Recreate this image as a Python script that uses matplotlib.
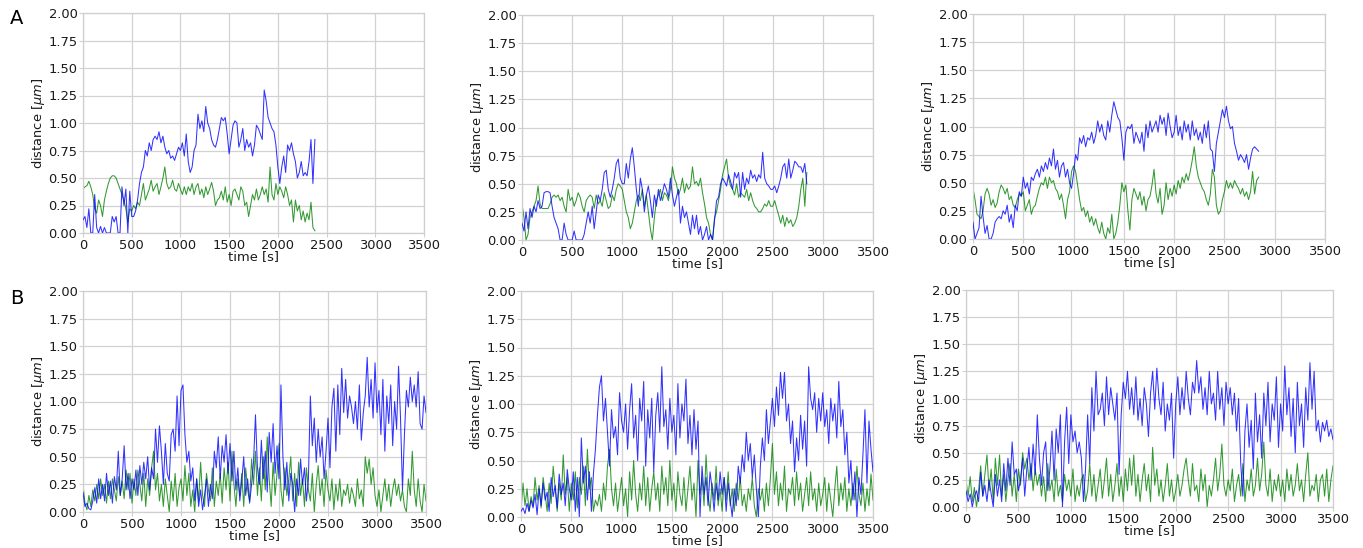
import numpy as np
import matplotlib
matplotlib.use("Agg")
import matplotlib.pyplot as plt

# ---------------- data ----------------
step = 20  # sampling interval [s]

a1_blue = [0.12, 0.15, 0.05, 0.22, 0.00, 0.00, 0.35, 0.05, 0.00, 0.06,
           0.00, 0.05, 0.00, 0.00, 0.00, 0.15, 0.10, 0.15, 0.00, 0.00,
           0.42, 0.25, 0.40, 0.00, 0.38, 0.15, 0.15, 0.20, 0.30, 0.45,
           0.55, 0.60, 0.75, 0.70, 0.82, 0.75, 0.85, 0.88, 0.85, 0.92,
           0.82, 0.88, 0.78, 0.72, 0.75, 0.68, 0.70, 0.66, 0.72, 0.78,
           0.75, 0.82, 0.70, 0.90, 0.65, 0.55, 0.60, 0.75, 0.80, 1.08,
           0.95, 1.02, 0.92, 1.15, 1.00, 0.95, 0.85, 0.80, 0.78, 0.85,
           0.95, 1.05, 1.02, 1.05, 0.90, 0.72, 0.85, 0.98, 1.02, 1.00,
           0.78, 0.85, 0.95, 0.75, 0.85, 0.78, 0.82, 0.70, 0.80, 0.98,
           0.95, 0.90, 0.85, 1.30, 1.20, 1.05, 1.00, 0.95, 0.92, 0.80,
           0.60, 0.45, 0.60, 0.70, 0.55, 0.80, 0.75, 0.82, 0.72, 0.65,
           0.50, 0.55, 0.65, 0.52, 0.55, 0.52, 0.65, 0.85, 0.45, 0.85]
a1_green = [0.40, 0.42, 0.43, 0.47, 0.42, 0.35, 0.22, 0.18, 0.30, 0.25,
            0.15, 0.30, 0.38, 0.45, 0.50, 0.52, 0.52, 0.50, 0.45, 0.40,
            0.35, 0.30, 0.22, 0.10, 0.22, 0.20, 0.25, 0.22, 0.28, 0.25,
            0.35, 0.45, 0.30, 0.35, 0.40, 0.48, 0.38, 0.42, 0.45, 0.35,
            0.42, 0.50, 0.60, 0.45, 0.40, 0.42, 0.48, 0.40, 0.38, 0.45,
            0.40, 0.35, 0.42, 0.35, 0.42, 0.38, 0.45, 0.35, 0.42, 0.45,
            0.35, 0.40, 0.32, 0.42, 0.35, 0.40, 0.46, 0.38, 0.25, 0.30,
            0.32, 0.38, 0.30, 0.42, 0.28, 0.35, 0.25, 0.38, 0.40, 0.35,
            0.30, 0.42, 0.38, 0.25, 0.28, 0.15, 0.25, 0.35, 0.30, 0.40,
            0.30, 0.35, 0.42, 0.35, 0.40, 0.28, 0.60, 0.35, 0.30, 0.45,
            0.35, 0.42, 0.38, 0.32, 0.42, 0.35, 0.25, 0.30, 0.10, 0.30,
            0.20, 0.25, 0.12, 0.20, 0.10, 0.18, 0.12, 0.28, 0.05, 0.02]

a2_blue = [0.15, 0.08, 0.25, 0.10, 0.28, 0.20, 0.30, 0.25, 0.35, 0.28,
           0.30, 0.42, 0.43, 0.43, 0.42, 0.30, 0.20, 0.15, 0.10, 0.00,
           0.00, 0.15, 0.05, 0.00, 0.00, 0.00, 0.08, 0.00, 0.00, 0.00,
           0.00, 0.05, 0.15, 0.25, 0.15, 0.30, 0.10, 0.25, 0.40, 0.35,
           0.45, 0.60, 0.62, 0.45, 0.38, 0.45, 0.55, 0.68, 0.72, 0.55,
           0.50, 0.50, 0.68, 0.55, 0.72, 0.82, 0.65, 0.45, 0.30, 0.55,
           0.45, 0.25, 0.40, 0.48, 0.35, 0.20, 0.40, 0.30, 0.45, 0.35,
           0.42, 0.50, 0.45, 0.38, 0.55, 0.40, 0.30, 0.38, 0.45, 0.15,
           0.30, 0.20, 0.25, 0.15, 0.05, 0.22, 0.10, 0.22, 0.05, 0.12,
           0.00, 0.05, 0.12, 0.00, 0.05, 0.00, 0.18, 0.35, 0.38, 0.50,
           0.55, 0.52, 0.48, 0.58, 0.52, 0.45, 0.60, 0.55, 0.60, 0.38,
           0.60, 0.45, 0.55, 0.50, 0.62, 0.55, 0.58, 0.52, 0.58, 0.55,
           0.78, 0.55, 0.50, 0.48, 0.45, 0.45, 0.48, 0.42, 0.48, 0.55,
           0.65, 0.68, 0.55, 0.72, 0.55, 0.62, 0.70, 0.68, 0.65, 0.65,
           0.60, 0.68, 0.50]
a2_green = [0.32, 0.20, 0.00, 0.05, 0.20, 0.25, 0.30, 0.35, 0.48, 0.32,
            0.28, 0.28, 0.28, 0.28, 0.32, 0.38, 0.40, 0.38, 0.40, 0.35,
            0.38, 0.30, 0.25, 0.45, 0.35, 0.38, 0.30, 0.35, 0.42, 0.38,
            0.30, 0.25, 0.35, 0.38, 0.40, 0.38, 0.28, 0.40, 0.32, 0.35,
            0.30, 0.42, 0.35, 0.28, 0.30, 0.40, 0.35, 0.45, 0.50, 0.48,
            0.45, 0.35, 0.25, 0.20, 0.10, 0.15, 0.25, 0.35, 0.40, 0.35,
            0.45, 0.30, 0.40, 0.25, 0.10, 0.00, 0.20, 0.35, 0.40, 0.45,
            0.35, 0.42, 0.40, 0.35, 0.45, 0.65, 0.55, 0.50, 0.40, 0.45,
            0.55, 0.42, 0.50, 0.45, 0.48, 0.65, 0.50, 0.52, 0.48, 0.55,
            0.42, 0.32, 0.20, 0.15, 0.05, 0.00, 0.20, 0.25, 0.35, 0.45,
            0.58, 0.65, 0.72, 0.55, 0.48, 0.45, 0.40, 0.50, 0.38, 0.42,
            0.40, 0.38, 0.45, 0.35, 0.42, 0.35, 0.30, 0.28, 0.25, 0.25,
            0.28, 0.32, 0.30, 0.35, 0.30, 0.30, 0.35, 0.28, 0.22, 0.15,
            0.22, 0.12, 0.20, 0.15, 0.18, 0.12, 0.15, 0.20, 0.30, 0.45,
            0.55, 0.30, 0.60]

a3_blue = [0.15, 0.00, 0.05, 0.10, 0.38, 0.20, 0.05, 0.12, 0.00, 0.00,
           0.05, 0.15, 0.18, 0.20, 0.18, 0.25, 0.22, 0.30, 0.15, 0.22,
           0.10, 0.30, 0.25, 0.42, 0.38, 0.55, 0.45, 0.50, 0.40, 0.55,
           0.52, 0.58, 0.62, 0.55, 0.65, 0.60, 0.68, 0.62, 0.72, 0.65,
           0.80, 0.62, 0.70, 0.55, 0.65, 0.68, 0.55, 0.62, 0.50, 0.45,
           0.58, 0.75, 0.70, 0.90, 0.85, 0.92, 0.82, 0.90, 0.88, 0.95,
           0.85, 0.92, 1.05, 0.95, 1.02, 0.92, 0.88, 1.05, 0.95, 1.10,
           1.22, 1.15, 1.08, 1.05, 0.90, 0.70, 0.95, 1.00, 0.98, 1.02,
           0.85, 0.95, 0.90, 0.85, 0.95, 0.78, 1.02, 0.90, 1.05, 0.95,
           1.00, 1.05, 0.95, 1.10, 1.02, 1.08, 0.92, 1.12, 1.00, 0.90,
           0.95, 1.10, 0.92, 1.00, 0.88, 1.05, 0.95, 1.02, 0.88, 1.05,
           0.92, 0.98, 0.88, 0.95, 0.85, 1.02, 0.90, 1.05, 0.80, 0.78,
           0.60, 0.85, 0.95, 1.05, 1.15, 1.08, 1.18, 1.05, 0.98, 1.00,
           0.85, 0.78, 0.70, 0.75, 0.72, 0.68, 0.75, 0.62, 0.72, 0.80,
           0.82, 0.80, 0.78]
a3_green = [0.45, 0.35, 0.22, 0.20, 0.18, 0.25, 0.40, 0.45, 0.40, 0.30,
            0.35, 0.28, 0.32, 0.42, 0.48, 0.45, 0.40, 0.45, 0.35, 0.38,
            0.30, 0.28, 0.35, 0.40, 0.38, 0.42, 0.25, 0.30, 0.35, 0.22,
            0.28, 0.30, 0.38, 0.45, 0.50, 0.48, 0.55, 0.45, 0.55, 0.50,
            0.52, 0.45, 0.42, 0.35, 0.40, 0.30, 0.18, 0.35, 0.42, 0.60,
            0.65, 0.60, 0.48, 0.35, 0.25, 0.28, 0.20, 0.25, 0.15, 0.20,
            0.12, 0.18, 0.10, 0.05, 0.15, 0.05, 0.00, 0.10, 0.05, 0.22,
            0.00, 0.05, 0.15, 0.30, 0.50, 0.42, 0.48, 0.25, 0.08, 0.35,
            0.45, 0.40, 0.35, 0.42, 0.30, 0.38, 0.25, 0.35, 0.38, 0.48,
            0.62, 0.40, 0.32, 0.45, 0.22, 0.30, 0.50, 0.35, 0.45, 0.38,
            0.48, 0.40, 0.52, 0.45, 0.55, 0.50, 0.58, 0.52, 0.60, 0.70,
            0.82, 0.65, 0.55, 0.50, 0.45, 0.42, 0.35, 0.30, 0.40, 0.62,
            0.55, 0.30, 0.22, 0.25, 0.35, 0.42, 0.52, 0.45, 0.50, 0.45,
            0.52, 0.48, 0.45, 0.40, 0.45, 0.38, 0.42, 0.35, 0.42, 0.60,
            0.40, 0.52, 0.55]

b1_blue = [0.18, 0.05, 0.08, 0.03, 0.02, 0.10, 0.22, 0.08, 0.30, 0.12,
           0.25, 0.10, 0.35, 0.15, 0.28, 0.08, 0.32, 0.20, 0.55, 0.15,
           0.30, 0.60, 0.20, 0.35, 0.12, 0.30, 0.20, 0.38, 0.15, 0.42,
           0.25, 0.45, 0.30, 0.50, 0.20, 0.40, 0.30, 0.75, 0.45, 0.78,
           0.55, 0.25, 0.62, 0.35, 0.28, 0.70, 0.75, 0.55, 1.05, 0.60,
           1.10, 1.15, 0.70, 0.45, 0.55, 0.28, 0.40, 0.10, 0.30, 0.05,
           0.20, 0.02, 0.15, 0.30, 0.05, 0.25, 0.12, 0.55, 0.40, 0.68,
           0.30, 0.60, 0.45, 0.70, 0.35, 0.62, 0.28, 0.55, 0.20, 0.40,
           0.10, 0.28, 0.50, 0.15, 0.30, 0.08, 0.25, 0.45, 0.88, 0.40,
           0.25, 0.65, 0.30, 0.55, 0.18, 0.72, 0.45, 0.80, 0.35, 0.60,
           0.30, 1.15, 0.50, 0.20, 0.45, 0.10, 0.35, 0.25, 0.00, 0.30,
           0.15, 0.48, 0.25, 0.40, 0.10, 0.30, 1.05, 0.60, 0.85, 0.45,
           0.75, 0.50, 0.68, 0.30, 0.55, 0.85, 0.40, 0.95, 1.12, 0.55,
           1.15, 0.70, 1.30, 0.90, 1.20, 0.85, 1.05, 0.95, 0.80, 1.00,
           0.75, 1.15, 0.65, 0.90, 1.05, 1.40, 0.95, 1.20, 0.85, 1.35,
           0.90, 1.10, 0.70, 1.20, 0.55, 1.05, 0.80, 1.15, 0.60, 1.00,
           0.75, 1.32, 0.85, 0.20, 0.70, 1.10, 0.95, 1.22, 1.00, 1.15,
           0.95, 1.27, 0.80, 0.75, 1.05, 0.90]
b1_green = [0.25, 0.08, 0.02, 0.15, 0.05, 0.20, 0.10, 0.25, 0.12, 0.30,
            0.15, 0.25, 0.08, 0.28, 0.12, 0.30, 0.20, 0.10, 0.32, 0.15,
            0.28, 0.12, 0.38, 0.20, 0.35, 0.08, 0.30, 0.15, 0.38, 0.25,
            0.10, 0.35, 0.05, 0.30, 0.15, 0.40, 0.55, 0.20, 0.35, 0.10,
            0.25, 0.05, 0.30, 0.15, 0.00, 0.28, 0.10, 0.35, 0.05, 0.22,
            0.30, 0.10, 0.42, 0.15, 0.35, 0.05, 0.20, 0.00, 0.30, 0.10,
            0.45, 0.15, 0.05, 0.35, 0.20, 0.10, 0.40, 0.05, 0.28, 0.15,
            0.35, 0.08, 0.40, 0.20, 0.45, 0.10, 0.55, 0.25, 0.05, 0.30,
            0.15, 0.35, 0.05, 0.40, 0.20, 0.10, 0.48, 0.25, 0.55, 0.15,
            0.40, 0.10, 0.50, 0.20, 0.68, 0.30, 0.05, 0.45, 0.15, 0.35,
            0.62, 0.20, 0.05, 0.40, 0.15, 0.30, 0.50, 0.10, 0.35, 0.05,
            0.45, 0.15, 0.30, 0.05, 0.40, 0.20, 0.10, 0.35, 0.00, 0.25,
            0.42, 0.15, 0.30, 0.05, 0.38, 0.20, 0.10, 0.30, 0.02, 0.25,
            0.10, 0.30, 0.05, 0.20, 0.15, 0.25, 0.08, 0.22, 0.15, 0.05,
            0.30, 0.12, 0.20, 0.05, 0.50, 0.35, 0.48, 0.25, 0.40, 0.15,
            0.05, 0.20, 0.00, 0.15, 0.30, 0.10, 0.25, 0.05, 0.20, 0.30,
            0.15, 0.25, 0.10, 0.20, 0.05, 0.00, 0.30, 0.15, 0.55, 0.20,
            0.05, 0.30, 0.10, 0.00, 0.25, 0.10]

b2_blue = [0.05, 0.08, 0.03, 0.12, 0.05, 0.15, 0.08, 0.20, 0.02, 0.25,
           0.10, 0.30, 0.15, 0.22, 0.05, 0.35, 0.18, 0.28, 0.08, 0.38,
           0.20, 0.30, 0.10, 0.42, 0.25, 0.15, 0.40, 0.05, 0.35, 0.00,
           0.70, 0.30, 0.45, 0.15, 0.40, 0.05, 0.38, 0.60, 0.90, 1.15,
           1.25, 0.85, 1.05, 0.75, 0.45, 0.95, 0.70, 0.80, 0.55, 1.10,
           0.85, 0.75, 1.00, 0.60, 0.95, 1.18, 0.70, 0.90, 0.50, 1.05,
           0.85, 1.20, 0.45, 0.95, 0.70, 1.05, 0.40, 0.90, 1.10, 0.75,
           1.33, 0.80, 0.95, 0.60, 1.05, 0.75, 0.90, 0.55, 1.18, 0.70,
           1.00, 0.85, 1.22, 0.65, 0.90, 0.55, 0.95, 0.60, 0.85, 0.00,
           0.45, 0.20, 0.35, 0.10, 0.40, 0.25, 0.05, 0.30, 0.15, 0.40,
           0.20, 0.35, 0.05, 0.30, 0.15, 0.00, 0.25, 0.10, 0.45, 0.30,
           0.55, 0.40, 0.75, 0.50, 0.65, 0.35, 0.55, 0.25, 0.00, 0.45,
           0.70, 0.50, 0.95, 0.65, 0.85, 1.05, 0.80, 1.15, 0.90, 1.28,
           1.05, 1.28, 0.85, 1.00, 0.65, 0.85, 0.40, 0.70, 0.50, 0.90,
           0.60, 0.85, 0.45, 1.33, 1.05, 0.95, 1.10, 0.75, 1.05, 0.85,
           1.10, 0.80, 0.95, 0.65, 1.05, 0.85, 1.00, 0.70, 1.20, 0.80,
           0.95, 0.55, 0.75, 0.30, 0.50, 0.15, 0.40, 0.00, 0.35, 0.20,
           0.55, 0.95, 0.30, 0.85, 0.60, 0.40]
b2_green = [0.05, 0.30, 0.10, 0.25, 0.05, 0.18, 0.10, 0.35, 0.15, 0.28,
            0.08, 0.35, 0.20, 0.05, 0.30, 0.12, 0.45, 0.25, 0.05, 0.30,
            0.15, 0.55, 0.20, 0.35, 0.05, 0.30, 0.15, 0.40, 0.08, 0.35,
            0.20, 0.45, 0.10, 0.60, 0.25, 0.35, 0.05, 0.15, 0.10, 0.20,
            0.05, 0.30, 0.15, 0.45, 0.60, 0.25, 0.10, 0.30, 0.05, 0.20,
            0.35, 0.10, 0.25, 0.00, 0.40, 0.15, 0.50, 0.20, 0.05, 0.30,
            0.15, 0.45, 0.10, 0.35, 0.05, 0.25, 0.40, 0.15, 0.30, 0.05,
            0.45, 0.20, 0.35, 0.10, 0.50, 0.15, 0.30, 0.05, 0.40, 0.20,
            0.10, 0.35, 0.05, 0.25, 0.45, 0.15, 0.30, 0.00, 0.50, 0.20,
            0.35, 0.10, 0.55, 0.20, 0.05, 0.30, 0.15, 0.45, 0.10, 0.25,
            0.05, 0.35, 0.15, 0.40, 0.10, 0.25, 0.05, 0.30, 0.15, 0.35,
            0.10, 0.20, 0.05, 0.25, 0.15, 0.35, 0.10, 0.00, 0.25, 0.15,
            0.25, 0.05, 0.30, 0.10, 0.35, 0.65, 0.20, 0.40, 0.10, 0.30,
            0.15, 0.45, 0.05, 0.25, 0.20, 0.35, 0.10, 0.40, 0.15, 0.30,
            0.05, 0.20, 0.35, 0.10, 0.40, 0.15, 0.25, 0.05, 0.30, 0.10,
            0.20, 0.35, 0.05, 0.30, 0.15, 0.00, 0.25, 0.45, 0.10, 0.30,
            0.15, 0.35, 0.05, 0.25, 0.10, 0.30, 0.15, 0.45, 0.20, 0.10,
            0.30, 0.05, 0.25, 0.10, 0.38, 0.15]

b3_blue = [0.15, 0.05, 0.12, 0.00, 0.10, 0.15, 0.05, 0.32, 0.10, 0.20,
           0.05, 0.25, 0.12, 0.00, 0.30, 0.10, 0.25, 0.05, 0.40, 0.15,
           0.45, 0.20, 0.60, 0.30, 0.35, 0.15, 0.25, 0.45, 0.10, 0.35,
           0.55, 0.25, 0.58, 0.30, 0.85, 0.45, 0.20, 0.50, 0.60, 0.15,
           0.35, 0.70, 0.25, 0.72, 0.50, 0.85, 0.00, 0.60, 0.92, 0.40,
           0.85, 0.60, 0.70, 0.50, 0.60, 0.45, 0.05, 0.35, 0.85, 0.40,
           1.10, 0.70, 1.25, 0.85, 0.90, 1.05, 0.75, 1.20, 0.85, 1.10,
           0.95, 0.80, 1.05, 0.30, 0.85, 1.15, 1.00, 1.25, 0.90, 1.10,
           0.85, 1.20, 0.80, 1.00, 0.75, 1.10, 0.95, 0.65, 1.05, 1.25,
           0.90, 1.28, 1.00, 0.85, 1.15, 0.70, 0.95, 0.80, 1.05, 0.45,
           0.95, 1.20, 0.85, 1.10, 0.90, 1.25, 1.00, 0.85, 1.15, 1.05,
           1.35, 1.05, 1.20, 0.90, 1.10, 0.85, 1.25, 0.95, 1.05, 0.80,
           1.25, 0.90, 1.10, 0.75, 1.15, 0.95, 1.10, 0.85, 1.05, 0.70,
           1.00, 0.40, 0.10, 0.70, 0.95, 0.55, 0.80, 0.35, 1.05, 0.60,
           0.85, 0.45, 1.05, 0.75, 1.15, 0.60, 0.95, 0.80, 1.20, 0.55,
           0.95, 0.70, 1.30, 0.85, 1.10, 0.65, 1.00, 0.50, 1.15, 0.75,
           0.95, 0.55, 1.10, 0.80, 1.33, 0.90, 1.25, 0.70, 0.80, 0.60,
           0.78, 0.70, 0.80, 0.65, 0.72, 0.62]
b3_green = [0.25, 0.10, 0.28, 0.05, 0.18, 0.00, 0.15, 0.38, 0.10, 0.30,
            0.48, 0.15, 0.35, 0.05, 0.45, 0.20, 0.48, 0.10, 0.30, 0.05,
            0.25, 0.40, 0.10, 0.30, 0.05, 0.35, 0.20, 0.50, 0.35, 0.45,
            0.25, 0.40, 0.15, 0.35, 0.20, 0.30, 0.10, 0.28, 0.05, 0.40,
            0.15, 0.25, 0.05, 0.35, 0.10, 0.20, 0.05, 0.30, 0.15, 0.25,
            0.10, 0.35, 0.05, 0.20, 0.10, 0.25, 0.30, 0.05, 0.15, 0.40,
            0.10, 0.30, 0.05, 0.20, 0.35, 0.08, 0.25, 0.45, 0.10, 0.30,
            0.05, 0.20, 0.40, 0.10, 0.28, 0.05, 0.35, 0.15, 0.45, 0.20,
            0.48, 0.10, 0.30, 0.05, 0.25, 0.40, 0.15, 0.30, 0.05, 0.55,
            0.20, 0.35, 0.10, 0.25, 0.05, 0.20, 0.40, 0.10, 0.25, 0.05,
            0.15, 0.30, 0.10, 0.20, 0.35, 0.45, 0.25, 0.10, 0.40, 0.15,
            0.20, 0.05, 0.35, 0.15, 0.30, 0.00, 0.20, 0.10, 0.25, 0.45,
            0.15, 0.30, 0.58, 0.20, 0.10, 0.25, 0.15, 0.35, 0.05, 0.20,
            0.30, 0.10, 0.40, 0.05, 0.25, 0.15, 0.35, 0.10, 0.20, 0.45,
            0.15, 0.30, 0.60, 0.20, 0.10, 0.35, 0.05, 0.25, 0.15, 0.30,
            0.10, 0.25, 0.05, 0.35, 0.15, 0.30, 0.10, 0.20, 0.40, 0.15,
            0.25, 0.05, 0.30, 0.50, 0.10, 0.20, 0.15, 0.30, 0.05, 0.25,
            0.30, 0.10, 0.35, 0.05, 0.25, 0.38]

x_ticks = [0, 500, 1000, 1500, 2000, 2500, 3000, 3500]
y_ticks = [0.00, 0.25, 0.50, 0.75, 1.00, 1.25, 1.50, 1.75, 2.00]
row_labels = ["A", "B"]

panels = [(a1_blue, a1_green), (a2_blue, a2_green), (a3_blue, a3_green),
          (b1_blue, b1_green), (b2_blue, b2_green), (b3_blue, b3_green)]

# ---------------- layout ----------------
W, H = 1363, 548
# axes boxes in pixels: left, right, top, bottom
boxes = [(83, 424, 13, 233), (522, 873, 15, 240), (973, 1325, 14, 239),
         (83, 426, 291, 512), (521, 873, 291, 517), (966, 1333, 290, 507)]

fig = plt.figure(figsize=(W / 100, H / 100), dpi=100)
fs = 9.4
for (blue, green), (l, r, t, b) in zip(panels, boxes):
    ax = fig.add_axes([l / W, 1 - b / H, (r - l) / W, (b - t) / H])
    tb = np.arange(len(blue)) * step
    tg = np.arange(len(green)) * step
    ax.plot(tb, blue, color="#0000ff", lw=0.75, alpha=0.8, zorder=3)
    ax.plot(tg, green, color="#008000", lw=0.75, alpha=0.8, zorder=2)
    ax.set_xlim(0, 3500)
    ax.set_ylim(0, 2.0)
    ax.set_xticks(x_ticks)
    ax.set_yticks(y_ticks)
    ax.set_yticklabels([f"{v:.2f}" for v in y_ticks])
    ax.grid(True, color="#d2d2d2", lw=0.9)
    ax.set_axisbelow(True)
    for s in ax.spines.values():
        s.set_color("#cfcfcf")
        s.set_linewidth(0.9)
    ax.tick_params(length=3, width=0.8, color="#cfcfcf", labelsize=fs,
                   labelcolor="#1a1a1a", pad=1)
    ax.set_xlabel("time [s]", fontsize=fs, color="#1a1a1a", labelpad=-1)
    ax.set_ylabel(r"distance [$\mu m$]", fontsize=fs, color="#1a1a1a", labelpad=1)

fig.text(17 / W, 1 - 19 / H, row_labels[0], fontsize=14, ha="center", va="center")
fig.text(17 / W, 1 - 298 / H, row_labels[1], fontsize=14, ha="center", va="center")

fig.savefig("out.png", dpi=100)
